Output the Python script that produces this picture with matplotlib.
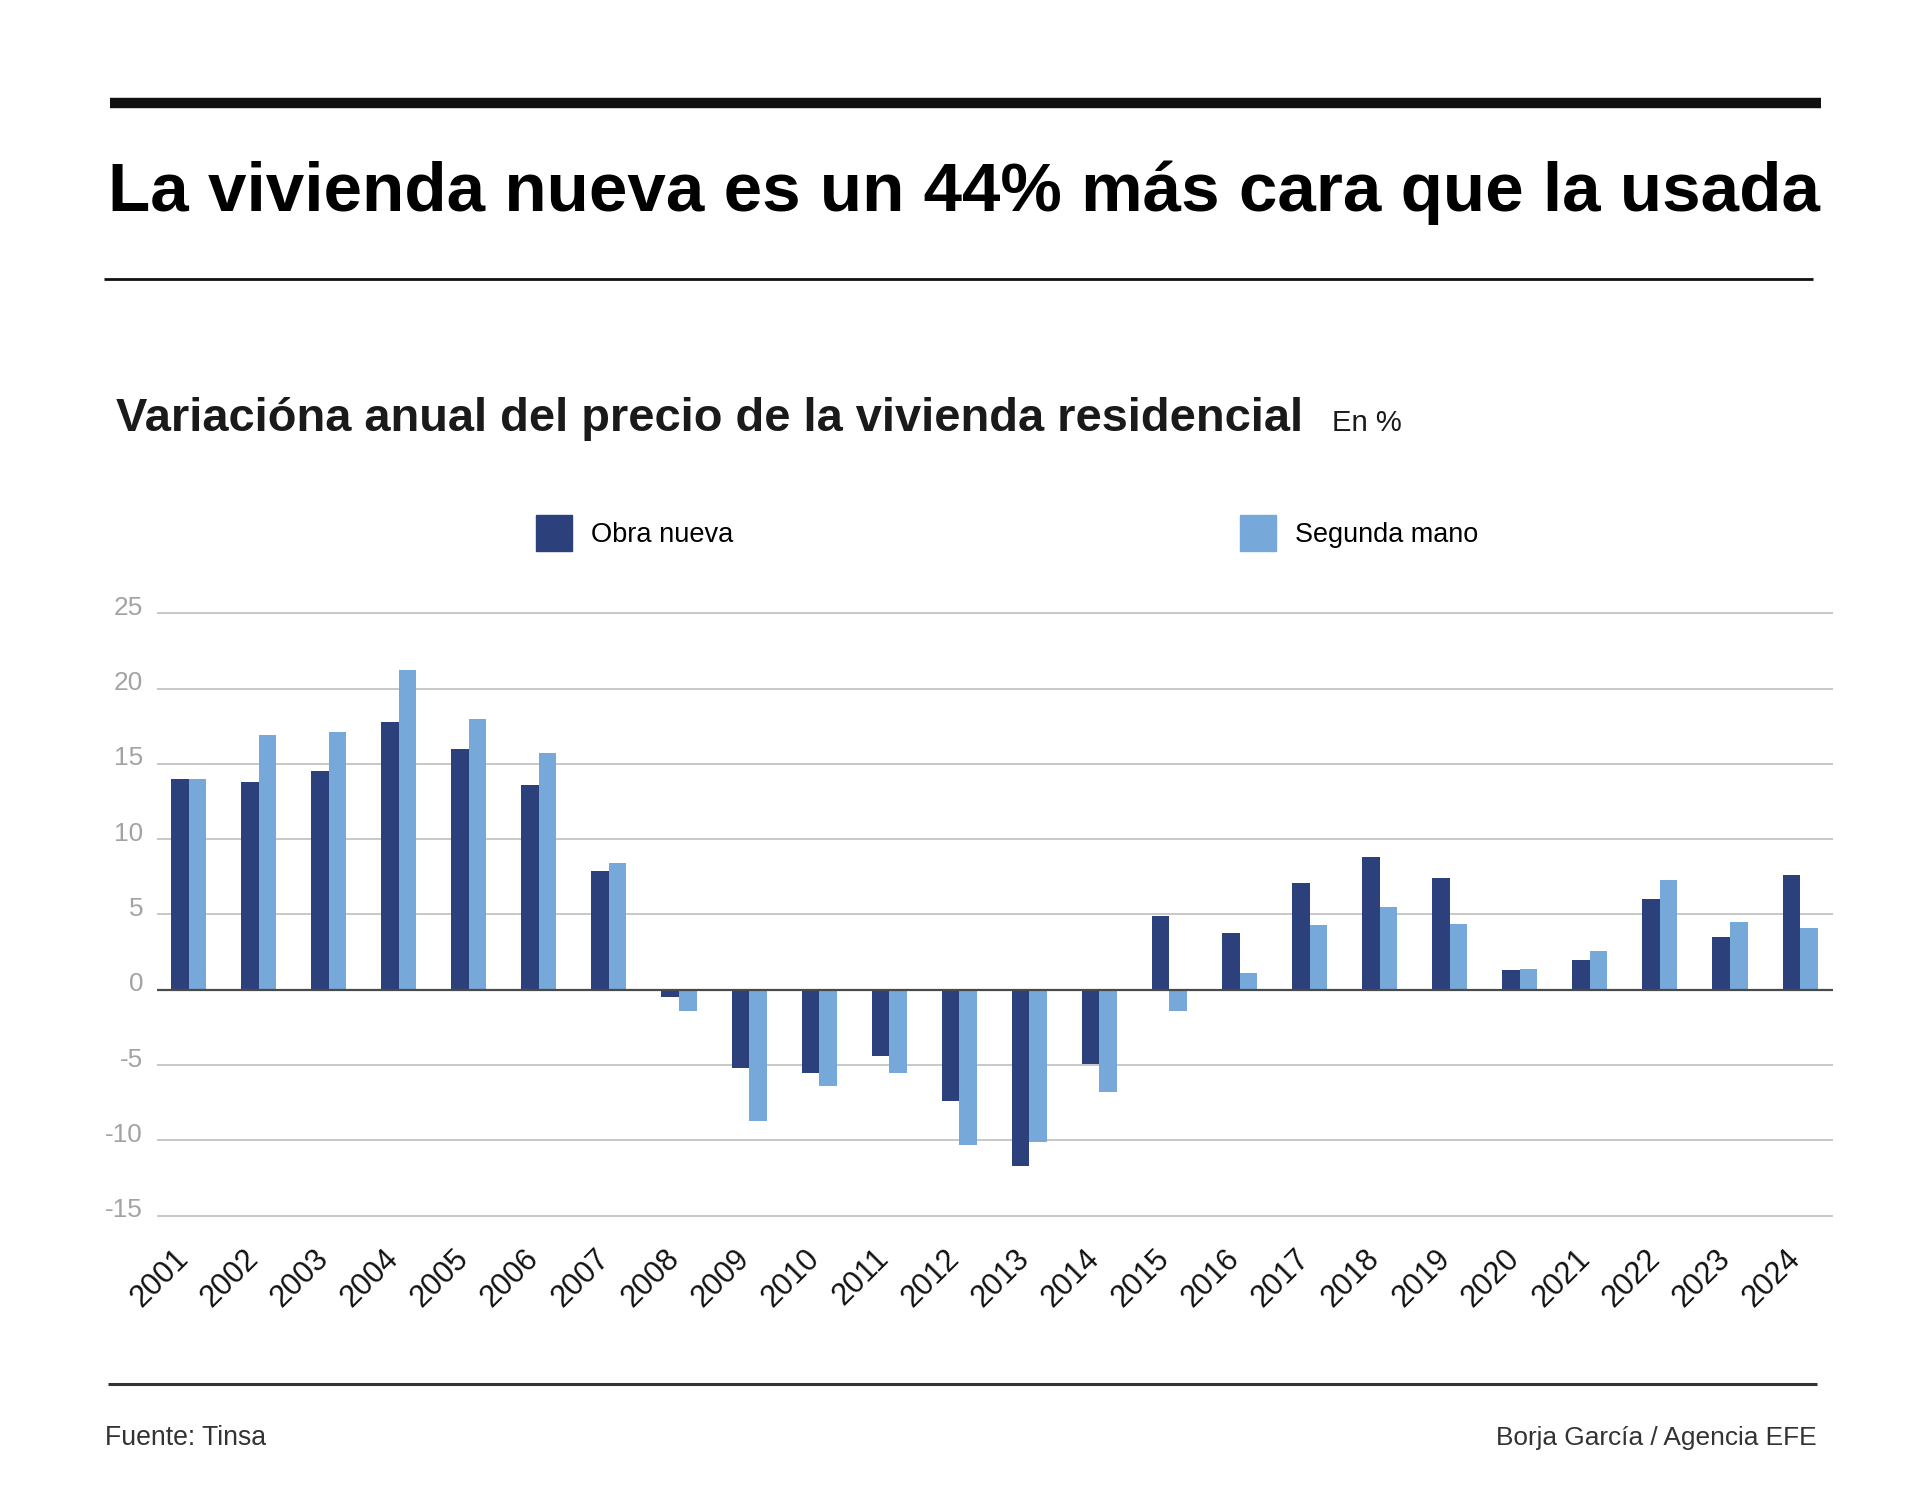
import matplotlib
matplotlib.use("Agg")
import numpy as np
import matplotlib.pyplot as plt
from matplotlib import font_manager
from matplotlib.lines import Line2D
from matplotlib.patches import Rectangle
from matplotlib.transforms import ScaledTranslation

# datos (lectura del gráfico)
years = ["2001", "2002", "2003", "2004", "2005", "2006", "2007", "2008",
         "2009", "2010", "2011", "2012", "2013", "2014", "2015", "2016",
         "2017", "2018", "2019", "2020", "2021", "2022", "2023", "2024"]
obra_nueva = [14.0, 13.8, 14.5, 17.8, 16.0, 13.6, 7.9, -0.5,
              -5.2, -5.5, -4.4, -7.4, -11.7, -4.9, 4.9, 3.8,
              7.1, 8.8, 7.4, 1.3, 2.0, 6.0, 3.5, 7.6]
segunda_mano = [14.0, 16.9, 17.1, 21.2, 18.0, 15.7, 8.4, -1.4,
                -8.7, -6.4, -5.5, -10.3, -10.1, -6.8, -1.4, 1.1,
                4.3, 5.5, 4.4, 1.35, 2.6, 7.3, 4.5, 4.1]
y_ticks = [-15, -10, -5, 0, 5, 10, 15, 20, 25]

DARK = "#2c407c"
LIGHT = "#76a9d9"

names = {f.name for f in font_manager.fontManager.ttflist}
NARROW = "Liberation Sans Narrow" if "Liberation Sans Narrow" in names else "Liberation Sans"
BOLD = "Liberation Sans"

W, H = 1920, 1498
fig = plt.figure(figsize=(W / 100, H / 100), dpi=100)
fig.patch.set_facecolor("white")


def fx(x):
    return x / W


def fy(y):
    return 1 - y / H


def fit(t, width_px):
    r = fig.canvas.get_renderer()
    w = t.get_window_extent(r).width
    t.set_fontsize(t.get_fontsize() * width_px / w)


def hline(x0, x1, y, lw, color):
    fig.add_artist(Line2D([fx(x0), fx(x1)], [fy(y), fy(y)], lw=lw,
                          color=color, transform=fig.transFigure,
                          solid_capstyle="butt"))


# cabecera
hline(110, 1821, 103, 7.5, "#111111")
hline(104, 1813, 279, 2.0, "#111111")
title = fig.text(fx(108), fy(211), "La vivienda nueva es un 44% más cara que la usada",
                 family=BOLD, weight="bold", fontsize=55, va="baseline", color="black")
fit(title, 1710)

sub = fig.text(fx(116), fy(431), "Variacióna anual del precio de la vivienda residencial",
               family=BOLD, weight="bold", fontsize=36, va="baseline", color="#1a1a1a")
fit(sub, 1186)
en = fig.text(fx(1332), fy(431), "En %", family=NARROW, fontsize=24,
              va="baseline", color="#1a1a1a")
fit(en, 70)

# leyenda
for x0, col, lab, wl in [(536, DARK, "Obra nueva", 142), (1240, LIGHT, "Segunda mano", 183)]:
    fig.add_artist(Rectangle((fx(x0), fy(551)), 36 / W, 36 / H, color=col,
                             transform=fig.transFigure))
    t = fig.text(fx(x0 + 55), fy(535), lab, family=NARROW, fontsize=22,
                 va="center", color="black")
    fit(t, wl)

# gráfico
ax = fig.add_axes([fx(157), fy(1217), (1833 - 157) / W, (1217 - 612) / H])
x = np.arange(len(years))
bw = 0.25
ax.bar(x - bw / 2, obra_nueva, bw, color=DARK, zorder=2)
ax.bar(x + bw / 2, segunda_mano, bw, color=LIGHT, zorder=2)
ax.axhline(0, color="#4a4a4a", lw=1.6, zorder=3)

ax.set_xlim(-0.45, len(years) - 1 + 0.47)
ax.set_ylim(-15.08, 25.08)
ax.set_yticks(y_ticks)
ax.set_yticklabels([str(v) for v in y_ticks])
ax.grid(axis="y", color="#c8c8c8", lw=1.4)
ax.set_axisbelow(True)
for s in ax.spines.values():
    s.set_visible(False)
ax.tick_params(axis="both", length=0)
ax.tick_params(axis="y", pad=10, labelcolor="#a3a3a3")
ax.tick_params(axis="x", pad=19)

ax.set_xticks(x)
ax.set_xticklabels(years, rotation=45, ha="right", va="top", rotation_mode="anchor")

size_probe = ax.text(0, 0, "-10", family=NARROW, fontsize=20)
fit(size_probe, 38)
ysize = size_probe.get_fontsize()
size_probe.remove()
for lab in ax.get_yticklabels():
    lab.set_family(NARROW)
    lab.set_fontsize(ysize)
    lab.set_transform(lab.get_transform() + ScaledTranslation(0, 0.08, fig.dpi_scale_trans))

year_probe = ax.text(0, 0, "2001", family=NARROW, fontsize=20)
fit(year_probe, 68)
xsize = year_probe.get_fontsize()
year_probe.remove()
for lab in ax.get_xticklabels():
    lab.set_family(NARROW)
    lab.set_fontsize(xsize)
    lab.set_color("#111111")
    lab.set_transform(lab.get_transform() + ScaledTranslation(-0.15, 0, fig.dpi_scale_trans))

# pie
hline(108, 1817, 1384, 2.2, "#333333")
f1 = fig.text(fx(105), fy(1445), "Fuente: Tinsa", family=NARROW, fontsize=20,
              va="baseline", color="#333333")
fit(f1, 161)
f2 = fig.text(fx(1817), fy(1445), "Borja García / Agencia EFE", family=NARROW, fontsize=20,
              va="baseline", ha="right", color="#333333")
fit(f2, 321)

fig.savefig("out.png", dpi=100, facecolor="white")
